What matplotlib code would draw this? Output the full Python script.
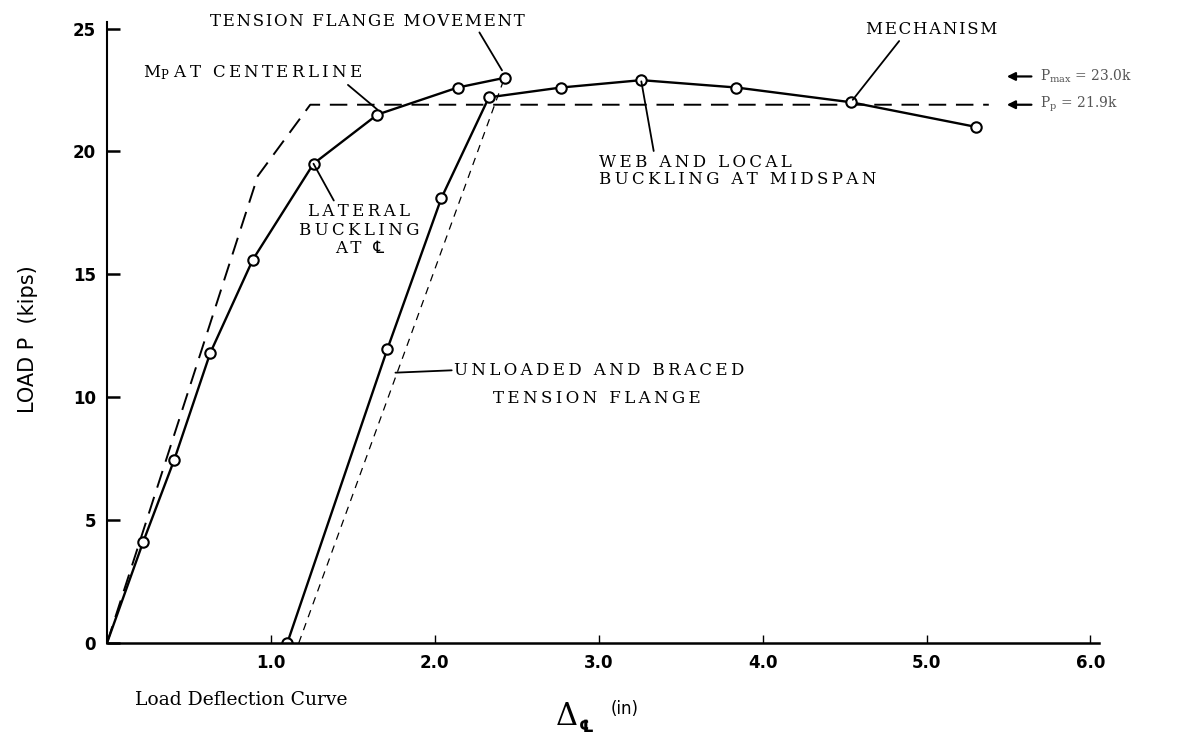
import matplotlib
matplotlib.use('Agg')
import matplotlib.pyplot as plt

load_defl = [0, 0.22, 0.41, 0.63, 0.89, 1.26, 1.65, 2.14, 2.43]
load_p = [0, 4.1, 7.45, 11.8, 15.6, 19.5, 21.5, 22.6, 23.0]

reload_defl = [1.10, 1.71, 2.04, 2.33, 2.77, 3.26, 3.84, 4.54, 5.30]
reload_p = [0, 11.95, 18.1, 22.2, 22.6, 22.9, 22.6, 22.0, 21.0]

# theoretical (dashed) curves
theory_defl = [0, 0.92, 1.24, 5.38]
theory_p = [0, 19.0, 21.9, 21.9]
braced_defl = [1.17, 2.42]
braced_p = [0, 22.9]

x_ticks = [1, 2, 3, 4, 5, 6]
x_labels = ['1.0', '2.0', '3.0', '4.0', '5.0', '6.0']
y_ticks = [0, 5, 10, 15, 20, 25]

p_max = 23.0
p_plastic = 21.9

plt.rcParams['mathtext.fontset'] = 'dejavuserif'
serif = ['DejaVu Serif', 'DejaVu Sans']


def spaced(s, gap='\u2009'):
    # hand lettering on the original is widely letter-spaced
    return '\n'.join(gap.join(line) for line in s.split('\n'))


fig = plt.figure(figsize=(12.02, 7.46), dpi=100)
ax = fig.add_axes([0.089, 0.138, 0.825, 0.832])

ax.plot(theory_defl, theory_p, color='black', lw=1.4, dashes=(9, 5))
ax.plot(braced_defl, braced_p, color='black', lw=0.9, dashes=(6, 5))
ax.plot(load_defl, load_p, color='black', lw=1.7, marker='o', ms=7.5,
        mfc='white', mec='black', mew=1.5, markevery=list(range(1, len(load_defl))))
ax.plot(reload_defl, reload_p, color='black', lw=1.7, marker='o', ms=7.5,
        mfc='white', mec='black', mew=1.5)

ax.set_xlim(0, 6.05)
ax.set_ylim(0, 25.25)
ax.spines['top'].set_visible(False)
ax.spines['right'].set_visible(False)
ax.spines['left'].set_linewidth(1.5)
ax.spines['bottom'].set_linewidth(1.8)
ax.set_xticks(x_ticks)
ax.set_xticklabels(x_labels)
ax.set_yticks(y_ticks)
ax.tick_params(axis='y', direction='in', length=9, width=1.8, pad=8, labelsize=12)
ax.tick_params(axis='x', direction='in', length=6, width=1.0, pad=8, labelsize=12)
for lab in ax.get_xticklabels() + ax.get_yticklabels():
    lab.set_fontweight('bold')

fig.text(0.023, 0.545, 'LOAD P  (kips)', rotation=90, ha='center', va='center', fontsize=15)
fig.text(0.112, 0.062, 'Load Deflection Curve', family=serif, fontsize=13.5, ha='left', va='center')
fig.text(0.462, 0.040, r'$\Delta$', fontsize=22, ha='left', va='center', color='black')
fig.text(0.482, 0.025, '\u2104', fontsize=12, family=['DejaVu Sans'], ha='left', va='center', fontweight='bold')
fig.text(0.508, 0.050, '(in)', fontsize=12, ha='left', va='center')

ann = dict(family=serif, fontsize=12, color='black')
lead = dict(arrowstyle='-', color='black', lw=1.3, shrinkA=0, shrinkB=0)

ax.annotate(spaced('TENSION FLANGE MOVEMENT', '\u200a'), xy=(2.41, 23.3), xytext=(1.59, 25.3),
            ha='center', va='center', arrowprops=dict(lead, relpos=(0.85, 0.0)),
            annotation_clip=False, **ann)
ax.annotate(r'M$_\mathrm{P}$ ' + spaced('AT CENTERLINE'), xy=(1.65, 21.7),
            xytext=(0.22, 23.2), ha='left', va='center',
            arrowprops=dict(lead, relpos=(0.92, 0.0)), **ann)
ax.annotate(spaced('LATERAL\nBUCKLING\nAT \u2104'), xy=(1.26, 19.5), xytext=(1.54, 16.8),
            ha='center', va='center', linespacing=1.1, multialignment='center',
            arrowprops=dict(lead, relpos=(0.3, 1.0)), **ann)
ax.annotate(spaced('WEB AND LOCAL\nBUCKLING AT MIDSPAN'), xy=(3.26, 22.85), xytext=(3.0, 19.2),
            ha='left', va='center', linespacing=1.05,
            arrowprops=dict(lead, relpos=(0.2, 1.0)), **ann)
ax.annotate(spaced('MECHANISM', '\u200a'), xy=(4.55, 22.1), xytext=(4.63, 24.95),
            ha='left', va='center', arrowprops=dict(lead, relpos=(0.27, 0.0)),
            annotation_clip=False, **ann)
ax.annotate(spaced('UNLOADED AND BRACED'), xy=(1.76, 11.0), xytext=(2.12, 11.1),
            ha='left', va='center', arrowprops=dict(lead, relpos=(0.0, 0.5)), **ann)
ax.text(2.99, 9.95, spaced('TENSION FLANGE'), ha='center', va='center', **ann)

# reference load levels on the right
for level, label in [(p_max + 0.05, r'P$_\mathrm{max}$ = 23.0k'),
                     (p_plastic, r'P$_\mathrm{p}$ = 21.9k')]:
    ax.annotate('', xy=(5.49, level), xytext=(5.64, level),
                arrowprops=dict(arrowstyle='-|>', color='black', lw=1.6,
                                mutation_scale=12, shrinkA=0, shrinkB=0),
                annotation_clip=False)
    ax.text(5.69, level, label, ha='left', va='center', family=serif,
            fontsize=10, color='#555555', clip_on=False)

fig.savefig('out.png', dpi=100)
